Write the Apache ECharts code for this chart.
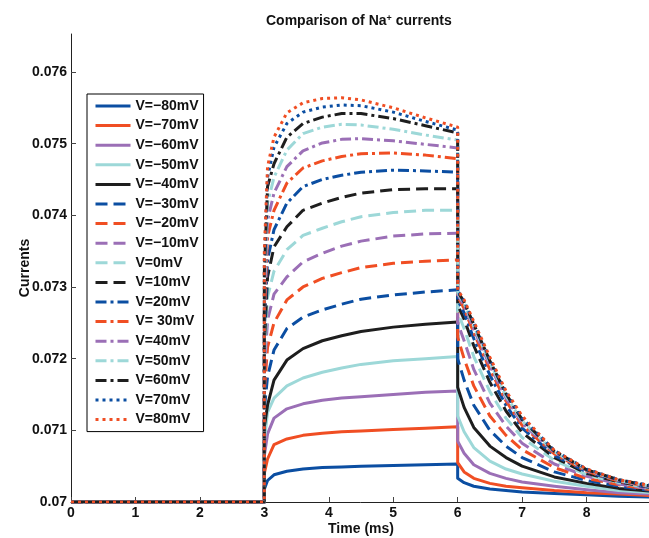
<!DOCTYPE html>
<html><head><meta charset="utf-8">
<script src="https://cdn.jsdelivr.net/npm/echarts@6/dist/echarts.min.js"></script>
<style>html,body{margin:0;padding:0;background:#fff}#c{width:649px;height:538px}</style>
</head><body><div id="c"></div>
<script>
// ---- data ----
const timeMs = [0, 3, 3, 3.05, 3.15, 3.35, 3.6, 3.9, 4.2, 4.5, 5, 5.5, 6, 6, 6.1, 6.25, 6.5, 6.75, 7, 7.5, 8, 8.5, 9];
const seriesNames = ['V=−80mV','V=−70mV','V=−60mV','V=−50mV','V=−40mV','V=−30mV','V=−20mV','V=−10mV','V=0mV','V=10mV','V=20mV','V= 30mV','V=40mV','V=50mV','V=60mV','V=70mV','V=80mV'];
const xTicks = [0, 1, 2, 3, 4, 5, 6, 7, 8];
const yTicks = [0.07, 0.071, 0.072, 0.073, 0.074, 0.075, 0.076];

const cur_m80 = [0.07,0.07,0.07018,0.0703,0.07038,0.07043,0.07046,0.07048,0.07049,0.0705,0.07051,0.07052,0.07053,0.07033,0.07027,0.07022,0.07018,0.07016,0.07014,0.07012,0.0701,0.07008,0.07007];
const cur_m70 = [0.07,0.07,0.0704,0.0706,0.0708,0.07088,0.07093,0.07096,0.07098,0.07099,0.07101,0.07103,0.07105,0.07055,0.07042,0.07033,0.07026,0.07022,0.0702,0.07016,0.07013,0.07011,0.07009];
const cur_m60 = [0.07,0.07,0.07065,0.07095,0.07117,0.0713,0.07137,0.07142,0.07145,0.07147,0.0715,0.07153,0.07155,0.07085,0.07068,0.07052,0.0704,0.07033,0.07028,0.07022,0.07017,0.07013,0.07011];
const cur_m50 = [0.07,0.07,0.07085,0.07125,0.07145,0.07162,0.07173,0.07181,0.07187,0.07192,0.07197,0.072,0.07203,0.0712,0.07098,0.07076,0.07057,0.07046,0.07039,0.07029,0.07022,0.07016,0.07013];
const cur_m40 = [0.07,0.07,0.07105,0.07135,0.0717,0.07198,0.07214,0.07225,0.07232,0.07238,0.07244,0.07248,0.07251,0.0716,0.07132,0.07104,0.07078,0.07062,0.0705,0.07035,0.07026,0.07019,0.07015];
const cur_m30 = [0.07,0.07,0.0713,0.07175,0.07212,0.07242,0.07258,0.07268,0.07276,0.07283,0.07289,0.07293,0.07296,0.072,0.0717,0.07135,0.071,0.07078,0.07062,0.07042,0.0703,0.07022,0.07016];
const cur_m20 = [0.07,0.07,0.07155,0.07216,0.0725,0.07282,0.073,0.07312,0.0732,0.07327,0.07333,0.07336,0.07338,0.0723,0.072,0.07162,0.0712,0.07093,0.07073,0.07048,0.07033,0.07024,0.07017];
const cur_m10 = [0.07,0.07,0.0718,0.07254,0.0729,0.07314,0.07335,0.07347,0.07357,0.07364,0.07371,0.07374,0.07375,0.0725,0.07225,0.07185,0.07138,0.07106,0.07082,0.07053,0.07036,0.07025,0.07018];
const cur_0   = [0.07,0.07,0.072,0.07286,0.07322,0.07352,0.07372,0.07382,0.07391,0.07398,0.07404,0.07407,0.07407,0.07265,0.07242,0.07203,0.07154,0.07117,0.0709,0.07058,0.07038,0.07027,0.07019];
const cur_p10 = [0.07,0.07,0.0722,0.07314,0.07356,0.07384,0.07407,0.07417,0.07425,0.07431,0.07436,0.07437,0.07437,0.07275,0.07255,0.07218,0.07167,0.07127,0.07097,0.07062,0.0704,0.07028,0.0702];
const cur_p20 = [0.07,0.07,0.0724,0.07338,0.0738,0.07417,0.0744,0.0745,0.07456,0.0746,0.07463,0.07462,0.0746,0.07282,0.07264,0.07228,0.07177,0.07135,0.07103,0.07065,0.07042,0.07029,0.0702];
const cur_p30 = [0.07,0.07,0.0726,0.0737,0.07407,0.07445,0.07466,0.07476,0.07482,0.07486,0.07487,0.07484,0.07479,0.07287,0.0727,0.07236,0.07185,0.07141,0.07107,0.07067,0.07043,0.07029,0.07021];
const cur_p40 = [0.07,0.07,0.0728,0.07393,0.07431,0.07468,0.0749,0.07501,0.07506,0.07507,0.07504,0.07499,0.07494,0.0729,0.07274,0.07241,0.0719,0.07145,0.0711,0.07069,0.07044,0.0703,0.07021];
const cur_p50 = [0.07,0.07,0.073,0.07417,0.07453,0.07491,0.07514,0.07523,0.07527,0.07526,0.0752,0.07512,0.07505,0.07292,0.07277,0.07245,0.07194,0.07148,0.07113,0.0707,0.07045,0.0703,0.07022];
const cur_p60 = [0.07,0.07,0.0732,0.0744,0.07472,0.07509,0.07528,0.07537,0.07542,0.07542,0.07535,0.07525,0.07515,0.07294,0.07279,0.07248,0.07197,0.07151,0.07115,0.07071,0.07045,0.07031,0.07022];
const cur_p70 = [0.07,0.07,0.07335,0.07453,0.07495,0.07528,0.07544,0.07551,0.07554,0.07553,0.07544,0.07531,0.07519,0.07295,0.0728,0.0725,0.07199,0.07153,0.07117,0.07072,0.07046,0.07031,0.07023];
const cur_p80 = [0.07,0.07,0.0735,0.07468,0.07509,0.07543,0.07557,0.07563,0.07564,0.07561,0.0755,0.07536,0.07523,0.07296,0.07282,0.07252,0.07202,0.07155,0.0712,0.07072,0.07046,0.07031,0.07023];

const allCurrents = [cur_m80,cur_m70,cur_m60,cur_m50,cur_m40,cur_m30,cur_m20,cur_m10,cur_0,cur_p10,cur_p20,cur_p30,cur_p40,cur_p50,cur_p60,cur_p70,cur_p80];

// ---- styles ----
const palette = ['#0b4ea2','#f04e23','#9b6fb6','#9dd8d8','#1e1e1e'];
const dashTypes = {solid:'solid', dash:[12,6], dashdot:[11,4,3,4], dot:[3,4]};
const styleOf = i => i < 5 ? 'solid' : i < 10 ? 'dash' : i < 15 ? 'dashdot' : 'dot';
const FONT = '"Liberation Sans", Arial, Helvetica, sans-serif';

const chart = echarts.init(document.getElementById('c'), null, {renderer:'canvas'});
chart.setOption({
  animation: false,
  backgroundColor: '#fff',
  title: {
    text: 'Comparison of Na{sup|+} currents',
    left: 261, top: 9,
    textStyle: {
      fontFamily: FONT, fontSize: 14, fontWeight: 'bold', color: '#111',
      rich: { sup: { fontFamily: FONT, fontSize: 9, fontWeight: 'bold', color: '#111', verticalAlign: 'top', padding: [0,0,6,0] } }
    }
  },
  grid: { left: 71, right: -2, top: 34, bottom: 36, containLabel: false, outerBoundsMode: 'none' },
  legend: {
    orient: 'vertical', left: 87, top: 94,
    data: seriesNames,
    itemWidth: 35, itemHeight: 14, itemGap: 5.6,
    padding: [5, 5, 5, 7],
    backgroundColor: '#fff', borderColor: '#000', borderWidth: 1, borderRadius: 0,
    textStyle: { fontFamily: FONT, fontSize: 14, fontWeight: 'bold', color: '#111', lineHeight: 14 },
    itemStyle: { opacity: 0 },
    lineStyle: { width: 3 },
    selectedMode: false
  },
  xAxis: {
    type: 'value', min: 0, max: 9, interval: 1,
    name: 'Time (ms)', nameLocation: 'middle', nameGap: 20, nameMoveOverlap: false,
    nameTextStyle: { fontFamily: FONT, fontSize: 14, fontWeight: 'bold', color: '#111' },
    axisLine: { show: true, onZero: false, lineStyle: { color: '#222', width: 1 } },
    axisTick: { show: true, inside: true, length: 5, lineStyle: { color: '#444' }, customValues: xTicks },
    axisLabel: { fontFamily: FONT, fontSize: 14, fontWeight: 'bold', color: '#111', margin: 4, customValues: xTicks },
    splitLine: { show: false }
  },
  yAxis: {
    type: 'value', min: 0.07, max: 0.07653,
    name: 'Currents', nameLocation: 'middle', nameGap: 38.5, nameMoveOverlap: false,
    nameTextStyle: { fontFamily: FONT, fontSize: 14, fontWeight: 'bold', color: '#111' },
    axisLine: { show: true, onZero: false, lineStyle: { color: '#222', width: 1 } },
    axisTick: { show: true, inside: true, length: 5, lineStyle: { color: '#444' }, customValues: yTicks },
    axisLabel: { fontFamily: FONT, fontSize: 14, fontWeight: 'bold', color: '#111', margin: 4, customValues: yTicks,
      formatter: v => String(+v.toFixed(3)) },
    splitLine: { show: false }
  },
  series: allCurrents.map((vals, i) => ({
    name: seriesNames[i],
    type: 'line',
    symbol: 'none', showSymbol: false,
    data: timeMs.map((t, k) => [t, vals[k]]),
    lineStyle: { color: palette[i % 5], width: 3, type: dashTypes[styleOf(i)], cap: 'butt', join: 'round' },
    itemStyle: { color: palette[i % 5] },
    emphasis: { disabled: true },
    silent: true
  }))
});
</script></body></html>
